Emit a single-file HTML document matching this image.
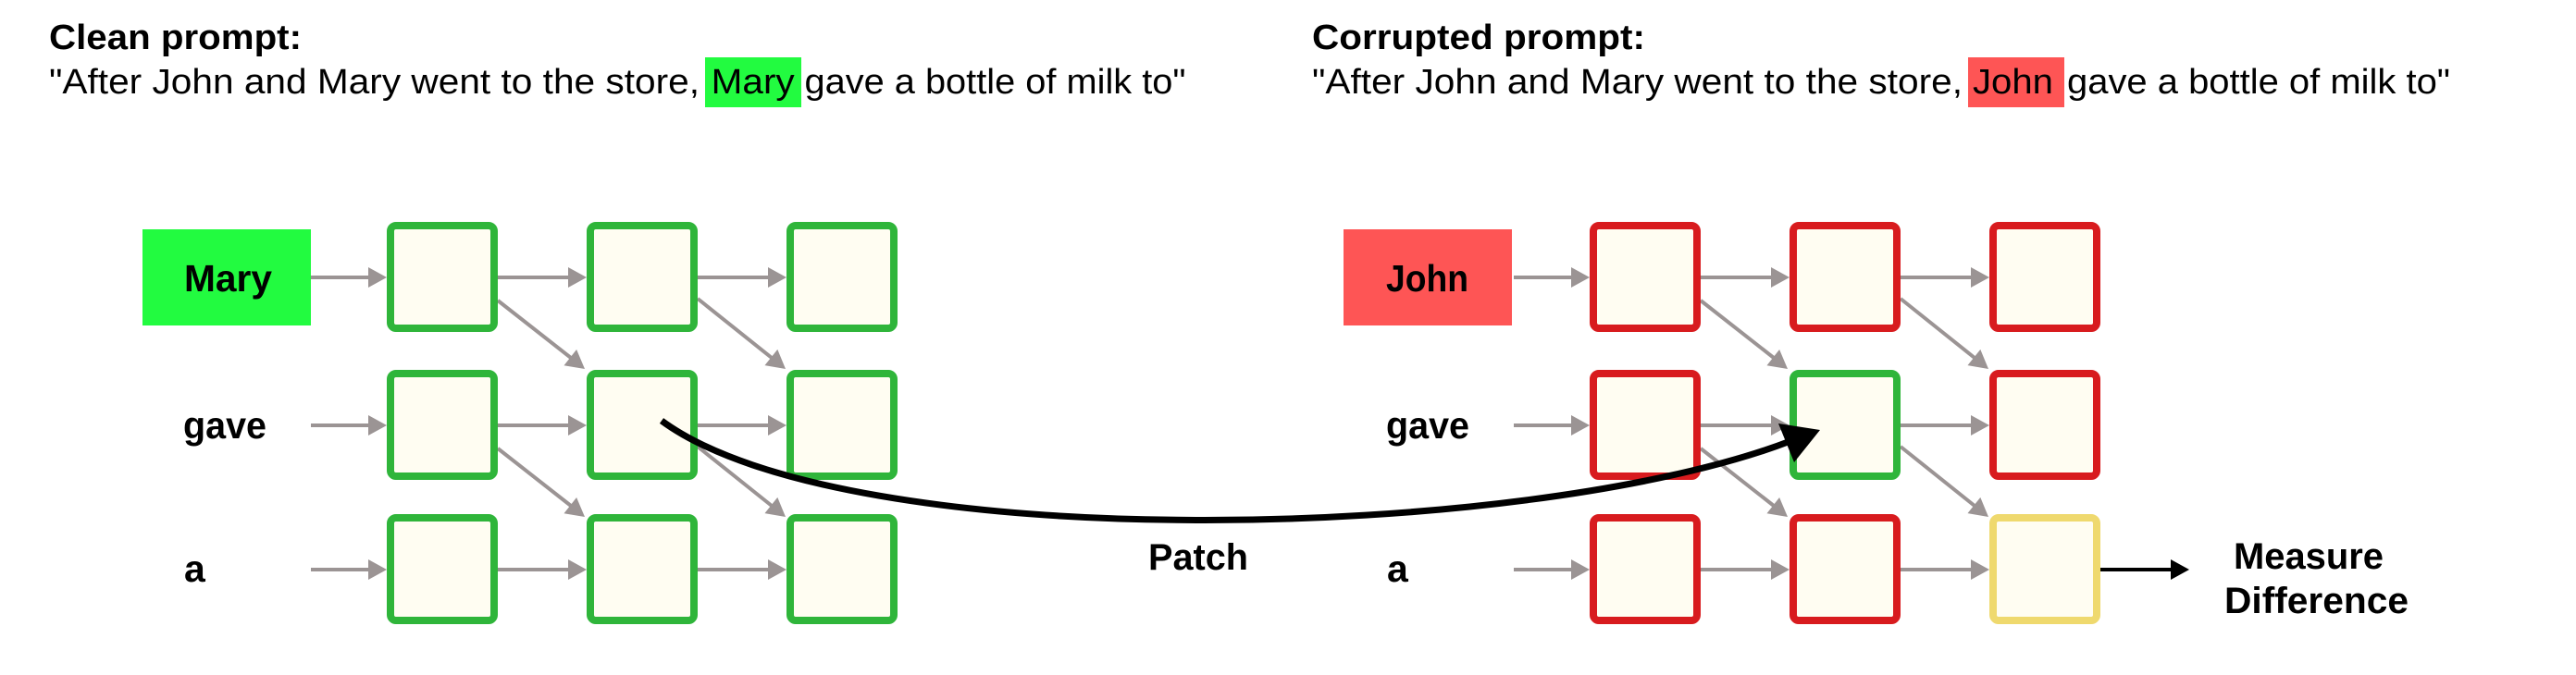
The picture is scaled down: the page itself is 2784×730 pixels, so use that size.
<!DOCTYPE html>
<html>
<head>
<meta charset="utf-8">
<style>
  html, body { margin: 0; padding: 0; background: #ffffff; }
  svg { display: block; }
  text { font-family: "Liberation Sans", Arial, sans-serif; fill: #000; }
  .b { font-weight: bold; }
</style>
</head>
<body>
<svg width="2784" height="730" viewBox="0 0 2784 730" xmlns="http://www.w3.org/2000/svg">
  <rect x="0" y="0" width="2784" height="730" fill="#ffffff"/>

  <!-- ===== Titles ===== -->
  <text class="b" x="53" y="53" font-size="38" textLength="273" lengthAdjust="spacingAndGlyphs">Clean prompt:</text>
  <rect x="762" y="62" width="104" height="54" fill="#22fb40"/>
  <text x="53" y="101" font-size="38" textLength="703" lengthAdjust="spacingAndGlyphs">"After John and Mary went to the store,</text>
  <text x="768.7" y="101" font-size="38" textLength="90" lengthAdjust="spacingAndGlyphs">Mary</text>
  <text x="869.5" y="101" font-size="38" textLength="412" lengthAdjust="spacingAndGlyphs">gave a bottle of milk to"</text>

  <text class="b" x="1418" y="53" font-size="38" textLength="360" lengthAdjust="spacingAndGlyphs">Corrupted prompt:</text>
  <rect x="2127" y="62" width="104" height="54" fill="#fe5555"/>
  <text x="1418" y="101" font-size="38" textLength="703" lengthAdjust="spacingAndGlyphs">"After John and Mary went to the store,</text>
  <text x="2132" y="101" font-size="38" textLength="87" lengthAdjust="spacingAndGlyphs">John</text>
  <text x="2234" y="101" font-size="38" textLength="414" lengthAdjust="spacingAndGlyphs">gave a bottle of milk to"</text>

  <!-- ===== Left grid (clean) ===== -->
  <g>
    <rect x="154" y="248" width="182" height="104" fill="#22fb40"/>
    <text class="b" x="199" y="315" font-size="41" textLength="95" lengthAdjust="spacingAndGlyphs">Mary</text>
    <text class="b" x="198" y="474" font-size="41" textLength="90" lengthAdjust="spacingAndGlyphs">gave</text>
    <text class="b" x="199" y="629" font-size="41">a</text>

    <g stroke="#9b9494" stroke-width="4" fill="none">
      <line x1="336" y1="300" x2="400" y2="300"/>
      <line x1="538" y1="300" x2="616" y2="300"/>
      <line x1="754" y1="300" x2="832" y2="300"/>
      <line x1="336" y1="460" x2="400" y2="460"/>
      <line x1="538" y1="460" x2="616" y2="460"/>
      <line x1="754" y1="460" x2="832" y2="460"/>
      <line x1="336" y1="616" x2="400" y2="616"/>
      <line x1="538" y1="616" x2="616" y2="616"/>
      <line x1="754" y1="616" x2="832" y2="616"/>
      <line x1="538" y1="325" x2="617" y2="387"/>
      <line x1="538" y1="485" x2="617" y2="547"/>
      <line x1="754" y1="323" x2="834" y2="387"/>
      <line x1="754" y1="483" x2="834" y2="547"/>
    </g>
    <g fill="#9b9494">
      <polygon points="398,289 418,300 398,311"/>
      <polygon points="614,289 634,300 614,311"/>
      <polygon points="830,289 850,300 830,311"/>
      <polygon points="398,449 418,460 398,471"/>
      <polygon points="614,449 634,460 614,471"/>
      <polygon points="830,449 850,460 830,471"/>
      <polygon points="398,605 418,616 398,627"/>
      <polygon points="614,605 634,616 614,627"/>
      <polygon points="830,605 850,616 830,627"/>
      <polygon points="632,399 609.5,395.2 623.1,378"/>
      <polygon points="632,559 609.5,555.2 623.1,538"/>
      <polygon points="849,399 826.5,395.1 840.3,377.9"/>
      <polygon points="849,559 826.5,555.1 840.3,537.9"/>
    </g>

    <g fill="#fffdf2" stroke-width="8">
      <rect x="422" y="244" width="112" height="111" rx="6" stroke="#2fb53a"/>
      <rect x="638" y="244" width="112" height="111" rx="6" stroke="#2fb53a"/>
      <rect x="854" y="244" width="112" height="111" rx="6" stroke="#2fb53a"/>
      <rect x="422" y="404" width="112" height="111" rx="6" stroke="#2fb53a"/>
      <rect x="638" y="404" width="112" height="111" rx="6" stroke="#2fb53a"/>
      <rect x="854" y="404" width="112" height="111" rx="6" stroke="#2fb53a"/>
      <rect x="422" y="560" width="112" height="111" rx="6" stroke="#2fb53a"/>
      <rect x="638" y="560" width="112" height="111" rx="6" stroke="#2fb53a"/>
      <rect x="854" y="560" width="112" height="111" rx="6" stroke="#2fb53a"/>
    </g>
  </g>

  <!-- ===== Right grid (corrupted) ===== -->
  <g transform="translate(1300,0)">
    <rect x="152" y="248" width="182" height="104" fill="#fe5555"/>
    <g stroke="#9b9494" stroke-width="4" fill="none">
      <line x1="336" y1="300" x2="400" y2="300"/>
      <line x1="538" y1="300" x2="616" y2="300"/>
      <line x1="754" y1="300" x2="832" y2="300"/>
      <line x1="336" y1="460" x2="400" y2="460"/>
      <line x1="538" y1="460" x2="616" y2="460"/>
      <line x1="754" y1="460" x2="832" y2="460"/>
      <line x1="336" y1="616" x2="400" y2="616"/>
      <line x1="538" y1="616" x2="616" y2="616"/>
      <line x1="754" y1="616" x2="832" y2="616"/>
      <line x1="538" y1="325" x2="617" y2="387"/>
      <line x1="538" y1="485" x2="617" y2="547"/>
      <line x1="754" y1="323" x2="834" y2="387"/>
      <line x1="754" y1="483" x2="834" y2="547"/>
    </g>
    <g fill="#9b9494">
      <polygon points="398,289 418,300 398,311"/>
      <polygon points="614,289 634,300 614,311"/>
      <polygon points="830,289 850,300 830,311"/>
      <polygon points="398,449 418,460 398,471"/>
      <polygon points="614,449 634,460 614,471"/>
      <polygon points="830,449 850,460 830,471"/>
      <polygon points="398,605 418,616 398,627"/>
      <polygon points="614,605 634,616 614,627"/>
      <polygon points="830,605 850,616 830,627"/>
      <polygon points="632,399 609.5,395.2 623.1,378"/>
      <polygon points="632,559 609.5,555.2 623.1,538"/>
      <polygon points="849,399 826.5,395.1 840.3,377.9"/>
      <polygon points="849,559 826.5,555.1 840.3,537.9"/>
    </g>

    <g fill="#fffdf2" stroke-width="8">
      <rect x="422" y="244" width="112" height="111" rx="6" stroke="#d81b1e"/>
      <rect x="638" y="244" width="112" height="111" rx="6" stroke="#d81b1e"/>
      <rect x="854" y="244" width="112" height="111" rx="6" stroke="#d81b1e"/>
      <rect x="422" y="404" width="112" height="111" rx="6" stroke="#d81b1e"/>
      <rect x="638" y="404" width="112" height="111" rx="6" stroke="#2fb53a"/>
      <rect x="854" y="404" width="112" height="111" rx="6" stroke="#d81b1e"/>
      <rect x="422" y="560" width="112" height="111" rx="6" stroke="#d81b1e"/>
      <rect x="638" y="560" width="112" height="111" rx="6" stroke="#d81b1e"/>
      <rect x="854" y="560" width="112" height="111" rx="6" stroke="#efd96e"/>
    </g>
  </g>
  <text class="b" x="1498" y="315" font-size="41" textLength="89" lengthAdjust="spacingAndGlyphs">John</text>
  <text class="b" x="1498" y="474" font-size="41" textLength="90" lengthAdjust="spacingAndGlyphs">gave</text>
  <text class="b" x="1499" y="629" font-size="41">a</text>

  <!-- Measure arrow -->
  <line x1="2270" y1="616" x2="2348" y2="616" stroke="#000" stroke-width="4"/>
  <polygon points="2346,605 2366,616 2346,627" fill="#000"/>
  <text class="b" x="2414" y="615" font-size="40" textLength="162" lengthAdjust="spacingAndGlyphs">Measure</text>
  <text class="b" x="2404" y="663" font-size="40" textLength="199" lengthAdjust="spacingAndGlyphs">Difference</text>

  <!-- Patch label -->
  <text class="b" x="1241" y="616" font-size="40" textLength="108" lengthAdjust="spacingAndGlyphs">Patch</text>

  <!-- Patch curve -->
  <path d="M715,455 C915,602.5 1649,586.7 1935,477" fill="none" stroke="#000" stroke-width="7"/>
  <polygon points="1967,465 1922,458 1939,500" fill="#000"/>
</svg>
</body>
</html>
